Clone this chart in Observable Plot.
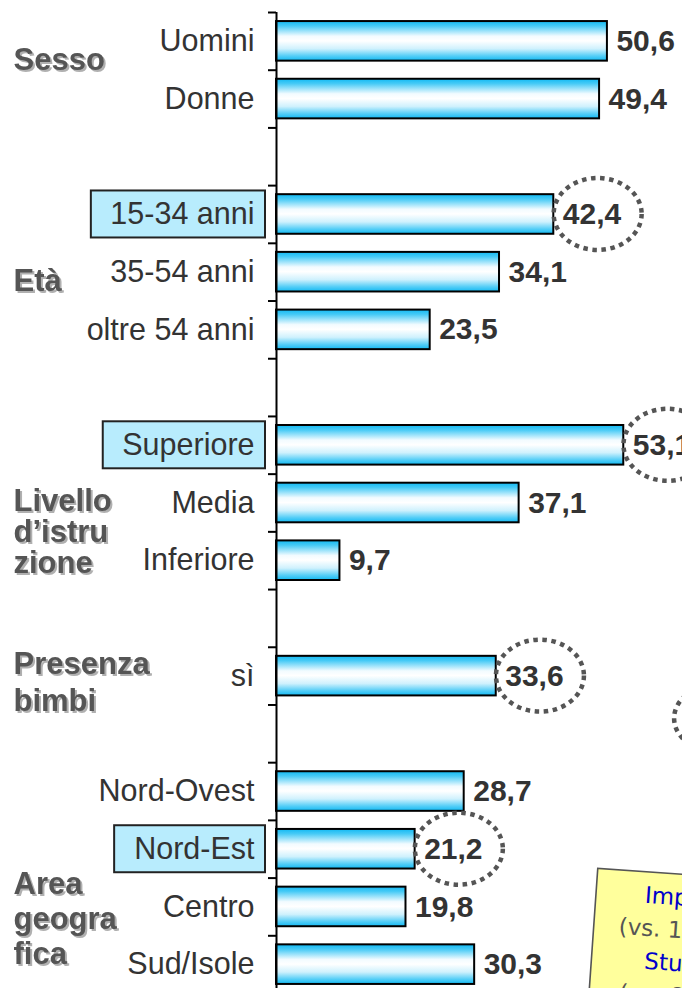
<!DOCTYPE html>
<html><head><meta charset="utf-8">
<script src="https://cdn.jsdelivr.net/npm/d3@7"></script>
<script src="https://cdn.jsdelivr.net/npm/@observablehq/plot@0.6"></script>
<style>
html,body{margin:0;padding:0;background:#fff;overflow:hidden;}
#chart svg{display:block;overflow:hidden;}
</style></head><body><div id="chart"></div>
<script>
// ---------- data ----------
const categories = ["Uomini","Donne","","15-34 anni","35-54 anni","oltre 54 anni","","Superiore","Media","Inferiore","","sì","","Nord-Ovest","Nord-Est","Centro","Sud/Isole"];
const values = [50.6,49.4,null,42.4,34.1,23.5,null,53.1,37.1,9.7,null,33.6,null,28.7,21.2,19.8,30.3];
const rowGroups = ["Sesso","Sesso",null,"Età","Età","Età",null,"Livello d’istruzione","Livello d’istruzione","Livello d’istruzione",null,"Presenza bimbi",null,"Area geografica","Area geografica","Area geografica","Area geografica"];
const groupKeys = ["Sesso","Età","Livello d’istruzione","Presenza bimbi","Area geografica"];
const groupTitles = ["Sesso","Età","Livello\nd’istru\nzione","Presenza\nbimbi","Area\ngeogra\nfica"];
const highlighted = ["15-34 anni","Superiore","Nord-Est"];
const circled = ["15-34 anni","Superiore","sì","Nord-Est"];
const noteLines = ["Impiegati","(vs. 19,4)","Studenti","(vs. 6,2)"];

// ---------- derived tables ----------
const rows = categories.map((c,i)=>({i, label:c, value:values[i], group:rowGroups[i]}));
const bars = rows.filter(d=>d.value!=null);
const labelled = rows.filter(d=>d.label!=="");
const fmt = v => v.toFixed(1).replace(".", ",");
const boundaries = d3.range(-0.5, categories.length, 1);

// ---------- layout (styling only) ----------
const W = 682, H = 988;
const font = "'Liberation Sans', Arial, Helvetica, sans-serif";
const groupNudge = {"Sesso":-0.17,"Età":0.15,"Livello d’istruzione":0.5,"Presenza bimbi":0.08,"Area geografica":0.68};
const groupLH = {"Sesso":1,"Età":1,"Livello d’istruzione":1.0,"Presenza bimbi":1.19,"Area geografica":1.13};
const groupRows = groupKeys.map((k,j)=>({key:k, title:groupTitles[j],
  y: d3.mean(rows.filter(r=>r.group===k), r=>r.i) + groupNudge[k]}));

const groupMarks = groupRows.map(g =>
  Plot.text([g], {x:()=>0, y:"y", text:"title", dx:-263, textAnchor:"start",
    fontSize:31, fontWeight:"bold", fill:"#555", lineHeight:groupLH[g.key]})
);

const labelGap = 22, valueGap = 9;
const chart = Plot.plot({
  width: W, height: H,
  marginLeft: 276, marginRight: 0, marginTop: 0, marginBottom: 0,
  x: {domain:[0, 62.08], axis:null},
  y: {domain:[-0.5, categories.length-0.5], range:[12, 993]},
  style: {fontFamily: font, background:"white", overflow:"hidden"},
  marks: [
    Plot.axisY(boundaries, {tickSize:8, tickFormat:()=>"", stroke:"black", strokeWidth:2}),
    Plot.rect(bars, {x1:()=>0, x2:"value", y1:d=>d.i-0.343, y2:d=>d.i+0.343,
      fill:"url(#barGrad)", stroke:"black", strokeWidth:2}),
    Plot.ruleX([0], {y1:-0.5, y2:categories.length-0.5, stroke:"black", strokeWidth:2}),
    Plot.text(labelled, {x:()=>0, y:"i", text:"label", dx:-labelGap, textAnchor:"end",
      fontSize:30.5, fill:"#333"}),
    Plot.text(bars, {x:"value", y:"i", text:d=>fmt(d.value), dx:valueGap, textAnchor:"start",
      fontSize:30, fontWeight:"bold", fill:"#333"}),
    ...groupMarks
  ]
});
document.getElementById("chart").appendChild(chart);

// ---------- decorations ----------
const svg = d3.select(chart);
const xs = chart.scale("x"), ys = chart.scale("y");
const defs = svg.insert("defs", ":first-child");
const grad = defs.append("linearGradient").attr("id","barGrad").attr("x1",0).attr("y1",0).attr("x2",0).attr("y2",1);
[[0,"#12b9f3"],[0.12,"#45caf6"],[0.38,"#f2fbff"],[0.5,"#ffffff"],[0.7,"#cff1fd"],[0.88,"#55cef7"],[1,"#12b9f3"]]
  .forEach(([o,c])=>grad.append("stop").attr("offset",o).attr("stop-color",c));

const textGroups = chart.querySelectorAll('g[aria-label="text"]');
const catTexts = textGroups[0].querySelectorAll("text");
const valTexts = textGroups[1].querySelectorAll("text");
// embossed look of the group titles
for (let k = 2; k < textGroups.length; k++)
  textGroups[k].style.filter = "drop-shadow(2px 2px 0.6px #b0b0b0)";

// highlight boxes behind selected category labels
const boxLayer = document.createElementNS("http://www.w3.org/2000/svg","g");
textGroups[0].parentNode.insertBefore(boxLayer, textGroups[0]);
labelled.forEach((d,k)=>{
  if (!highlighted.includes(d.label)) return;
  const w = catTexts[k].getBBox().width;
  const right = xs.apply(0) - labelGap;
  const cy = ys.apply(d.i);
  d3.select(boxLayer).append("rect")
    .attr("x", right - w - 19).attr("y", cy - 23.5)
    .attr("width", w + 19 + 11).attr("height", 47)
    .attr("fill","#b8ecfd").attr("stroke","#222").attr("stroke-width",2);
});

// dotted ellipses around selected values
const ellLayer = svg.append("g");
bars.forEach((d,k)=>{
  if (!circled.includes(d.label)) return;
  const w = valTexts[k].getBBox().width;
  const left = xs.apply(d.value) + valueGap;
  ellLayer.append("ellipse")
    .attr("cx", left + w/2 + 6).attr("cy", ys.apply(d.i))
    .attr("rx", 44).attr("ry", 36)
    .attr("fill","none").attr("stroke","#555").attr("stroke-width",4.5)
    .attr("stroke-dasharray","4.5 4.6");
});
// fragment of an ellipse from the neighbouring panel (cut by the edge)
ellLayer.append("ellipse")
  .attr("cx", xs.apply(67.6)).attr("cy", ys.apply(11.74))
  .attr("rx", 44).attr("ry", 34)
  .attr("fill","none").attr("stroke","#555").attr("stroke-width",4.5)
  .attr("stroke-dasharray","4.5 4.6");

// yellow note (cut by the edge)
const nx = xs.apply(49.2), ny = ys.apply(14.34);
const note = svg.append("g").attr("transform", `translate(${nx},${ny}) rotate(4)`);
note.append("rect").attr("x",0).attr("y",0).attr("width",220).attr("height",170)
  .attr("fill","#ffff9c").attr("stroke","#555").attr("stroke-width",1.6);
const noteColors = ["#0000cc","#555","#0000cc","#555"];
const noteX = [49, 25, 53, 30];
noteLines.forEach((t,k)=>{
  note.append("text").attr("x", noteX[k]).attr("y", 31 + k*33)
    .attr("text-anchor","start")
    .attr("font-family","'DejaVu Sans', Verdana, sans-serif").attr("font-size",23)
    .attr("fill", noteColors[k]).text(t);
});
</script>
</body></html>
